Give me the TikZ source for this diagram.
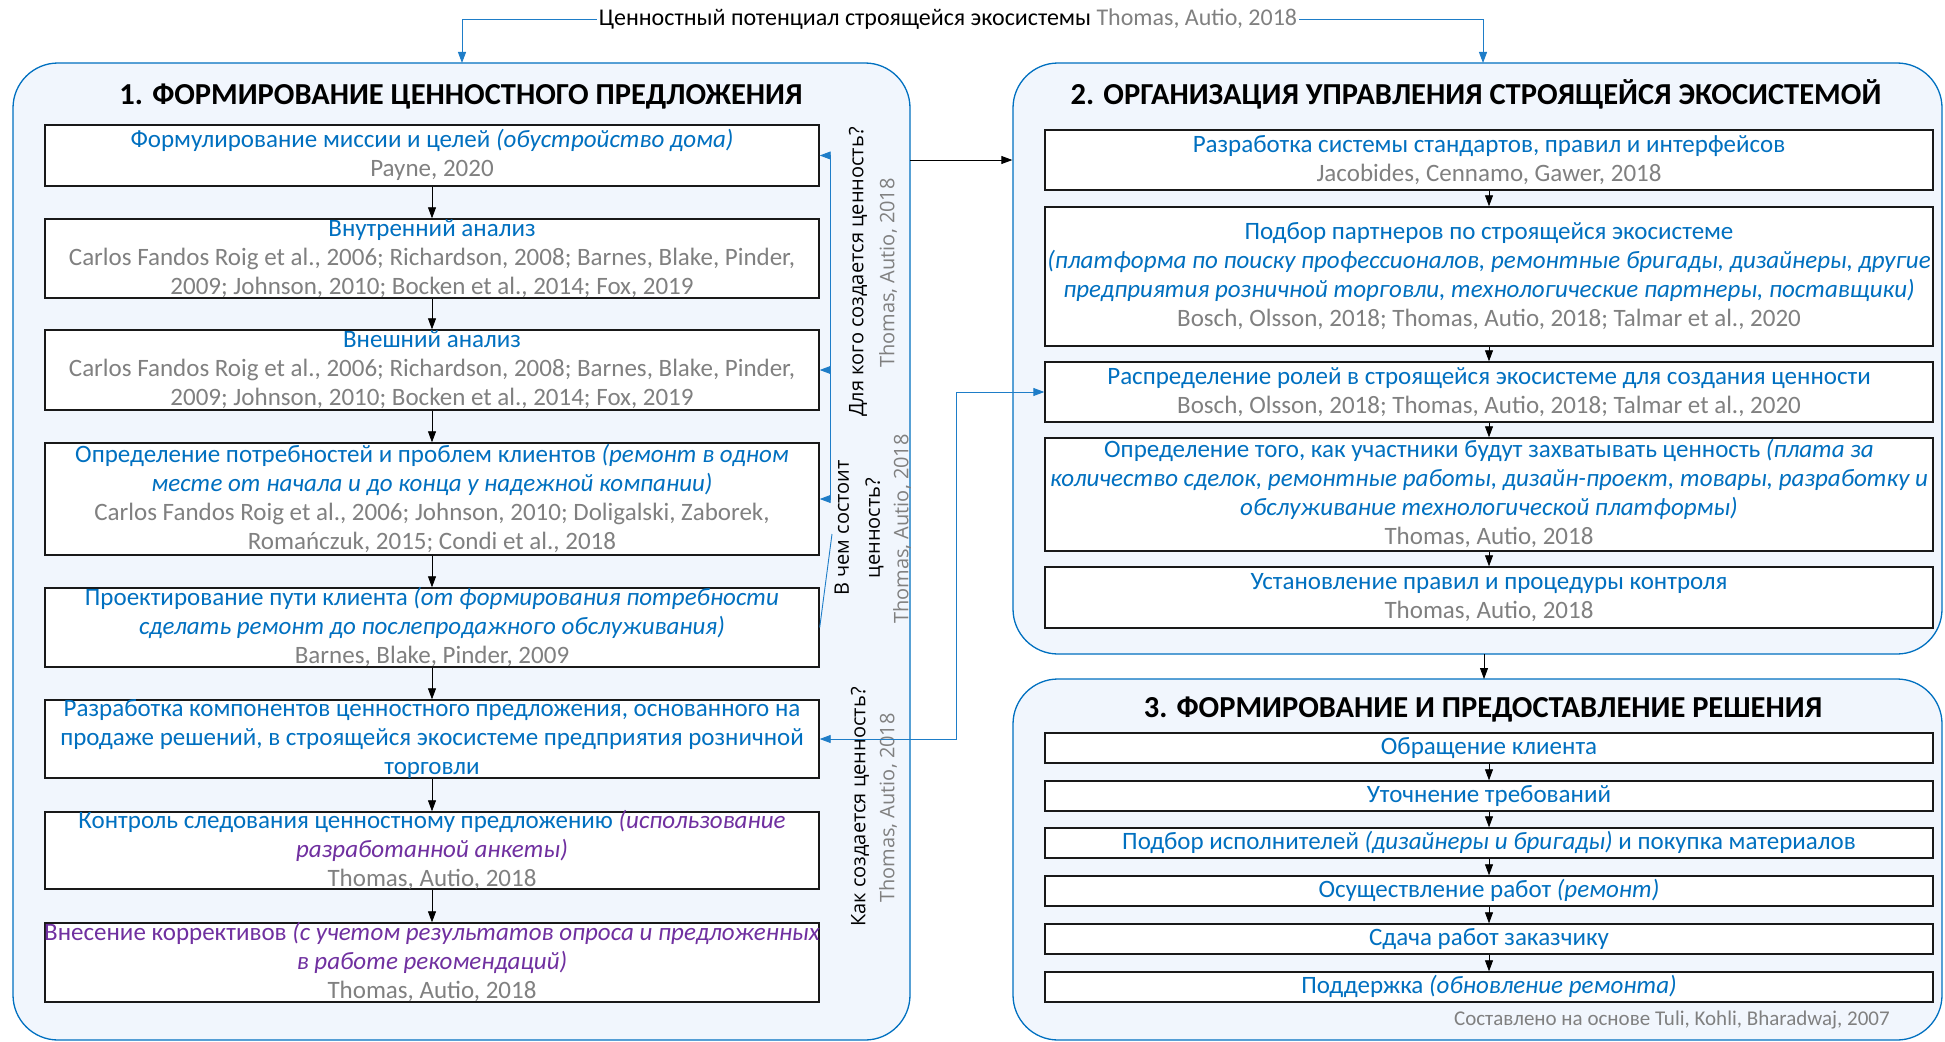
\documentclass[tikz,border=0pt]{standalone}
\usepackage{fontspec}
\setmainfont{Carlito}
\newfontfamily\segoe{Open Sans}
\usetikzlibrary{arrows.meta,calc}
\definecolor{cblue}{RGB}{0,112,192}
\definecolor{lblue}{RGB}{30,125,200}
\definecolor{cgray}{RGB}{128,128,128}
\definecolor{cpurp}{RGB}{112,48,160}
\definecolor{cfill}{RGB}{241,246,253}
\newcommand\cgr[1]{\textcolor{cgray}{#1}}
\newcommand\cpu[1]{\textcolor{cpurp}{#1}}
\newcommand\st{\vrule height 21pt depth 8pt width 0pt}
\begin{document}
\begin{tikzpicture}[x=1pt,y=-1pt,
 panel/.style={draw=cblue, fill=cfill, rounded corners=45pt, line width=1.3pt, inner sep=0pt},
 lbox/.style={draw=black!90, fill=white, line width=1.4pt, inner sep=0pt, minimum width=774pt},
 rbox/.style={draw=black!90, fill=white, line width=1.4pt, inner sep=0pt, minimum width=888pt},
 btxt/.style={align=center, inner sep=0pt, font=\fontsize{25}{29}\selectfont, text=cblue},
 ttl/.style={inner sep=0pt, anchor=base, font=\bfseries\fontsize{30.5}{34}\selectfont, text=black},
 qtxt/.style={rotate=90, align=center, inner sep=0pt, font=\segoe\fontsize{20}{31}\selectfont, text=black},
 qref/.style={rotate=90, inner sep=0pt, font=\segoe\fontsize{20}{24}\selectfont, text=cgray},
 arr/.style={-{Triangle[length=11pt,width=8pt]}, line width=0.8pt, draw=black},
 barr/.style={-{Triangle[length=11pt,width=8pt]}, line width=0.9pt, draw=lblue},
 bboth/.style={{Triangle[length=11pt,width=8pt]}-{Triangle[length=11pt,width=8pt]}, line width=0.9pt, draw=lblue},
 bline/.style={line width=0.9pt, draw=lblue}
]
\useasboundingbox (0,0) rectangle (1945,1041);

% panels
\node[panel, minimum width=897pt, minimum height=977pt] (P1) at (461.5,551.5) {};
\node[panel, minimum width=929pt, minimum height=591pt] (P2) at (1477.5,358.5) {};
\node[panel, minimum width=929pt, minimum height=361pt] (P3) at (1477.5,859.5) {};

% titles
\node[ttl] (T1) at (461,104) {1. ФОРМИРОВАНИЕ ЦЕННОСТНОГО ПРЕДЛОЖЕНИЯ};
\node[ttl] (T2) at (1476,104) {2. ОРГАНИЗАЦИЯ УПРАВЛЕНИЯ СТРОЯЩЕЙСЯ ЭКОСИСТЕМОЙ};
\node[ttl] (T3) at (1483,717) {3. ФОРМИРОВАНИЕ И ПРЕДОСТАВЛЕНИЕ РЕШЕНИЯ};

% top label
\node[inner sep=2pt, font=\fontsize{24}{28}\selectfont] (top) at (948,19) {Ценностный потенциал строящейся экосистемы \cgr{Thomas, Autio, 2018}};
\coordinate (tl) at (462,63);
\coordinate (tr) at (1483,63);
\draw[barr] (top.west) -| (tl);
\draw[barr] (top.east) -| (tr);

% left boxes
\node[lbox, minimum height=61pt] (L1) at (432,155.5) {};
\node[lbox, minimum height=79pt] (L2) at (432,258.5) {};
\node[lbox, minimum height=80pt] (L3) at (432,370) {};
\node[lbox, minimum height=112pt] (L4) at (432,499) {};
\node[lbox, minimum height=79pt] (L5) at (432,627.5) {};
\node[lbox, minimum height=78pt] (L6) at (432,739) {};
\node[lbox, minimum height=77pt] (L7) at (432,850.5) {};
\node[lbox, minimum height=79pt] (L8) at (432,962.5) {};

\node[btxt] (tL1) at (L1.center) {\st Формулирование миссии и целей \textit{(обустройство дома)}\\\st\cgr{Payne, 2020}};
\node[btxt] (tL2) at (L2.center) {\st Внутренний анализ\\\st\cgr{Carlos Fandos Roig et al., 2006; Richardson, 2008; Barnes, Blake, Pinder,}\\\st\cgr{2009; Johnson, 2010; Bocken et al., 2014; Fox, 2019}};
\node[btxt] (tL3) at (L3.center) {\st Внешний анализ\\\st\cgr{Carlos Fandos Roig et al., 2006; Richardson, 2008; Barnes, Blake, Pinder,}\\\st\cgr{2009; Johnson, 2010; Bocken et al., 2014; Fox, 2019}};
\node[btxt] (tL4) at (L4.center) {\st Определение потребностей и проблем клиентов \textit{(ремонт в одном}\\\st\textit{месте от начала и до конца у надежной компании)}\\\st\cgr{Carlos Fandos Roig et al., 2006; Johnson, 2010; Doligalski, Zaborek,}\\\st\cgr{Romańczuk, 2015; Condi et al., 2018}};
\node[btxt] (tL5) at (L5.center) {\st Проектирование пути клиента \textit{(от формирования потребности}\\\st\textit{сделать ремонт до послепродажного обслуживания)}\\\st\cgr{Barnes, Blake, Pinder, 2009}};
\node[btxt] (tL6) at (L6.center) {\st Разработка компонентов ценностного предложения, основанного на\\\st продаже решений, в строящейся экосистеме предприятия розничной\\\st торговли};
\node[btxt] (tL7) at (L7.center) {\st Контроль следования ценностному предложению \cpu{\textit{(использование}}\\\st\cpu{\textit{разработанной анкеты)}}\\\st\cgr{Thomas, Autio, 2018}};
\node[btxt] (tL8) at (L8.center) {\st\cpu{Внесение коррективов \textit{(с учетом результатов опроса и предложенных}}\\\st\cpu{\textit{в работе рекомендаций)}}\\\st\cgr{Thomas, Autio, 2018}};

\draw[arr] (L1) -- (L2);
\draw[arr] (L2) -- (L3);
\draw[arr] (L3) -- (L4);
\draw[arr] (L4) -- (L5);
\draw[arr] (L5) -- (L6);
\draw[arr] (L6) -- (L7);
\draw[arr] (L7) -- (L8);

% right boxes (panel 2)
\node[rbox, minimum height=60pt] (R1) at (1489,160) {};
\node[rbox, minimum height=139pt] (R2) at (1489,276.5) {};
\node[rbox, minimum height=60pt] (R3) at (1489,392) {};
\node[rbox, minimum height=113pt] (R4) at (1489,494.5) {};
\node[rbox, minimum height=61pt] (R5) at (1489,597.5) {};

\node[btxt] (tR1) at (R1.center) {\st Разработка системы стандартов, правил и интерфейсов\\\st\cgr{Jacobides, Cennamo, Gawer, 2018}};
\node[btxt] (tR2) at (R2.center) {\st Подбор партнеров по строящейся экосистеме\\\st\textit{(платформа по поиску профессионалов, ремонтные бригады, дизайнеры, другие}\\\st\textit{предприятия розничной торговли, технологические партнеры, поставщики)}\\\st\cgr{Bosch, Olsson, 2018; Thomas, Autio, 2018; Talmar et al., 2020}};
\node[btxt] (tR3) at (R3.center) {\st Распределение ролей в строящейся экосистеме для создания ценности\\\st\cgr{Bosch, Olsson, 2018; Thomas, Autio, 2018; Talmar et al., 2020}};
\node[btxt] (tR4) at (R4.center) {\st Определение того, как участники будут захватывать ценность \textit{(плата за}\\\st\textit{количество сделок, ремонтные работы, дизайн-проект, товары, разработку и}\\\st\textit{обслуживание технологической платформы)}\\\st\cgr{Thomas, Autio, 2018}};
\node[btxt] (tR5) at (R5.center) {\st Установление правил и процедуры контроля\\\st\cgr{Thomas, Autio, 2018}};

\draw[arr] (R1) -- (R2);
\draw[arr] (R2) -- (R3);
\draw[arr] (R3) -- (R4);
\draw[arr] (R4) -- (R5);

% panel 3 boxes
\node[rbox, minimum height=30pt] (S1) at (1489,748) {};
\node[rbox, minimum height=30pt] (S2) at (1489,796) {};
\node[rbox, minimum height=30pt] (S3) at (1489,843) {};
\node[rbox, minimum height=30pt] (S4) at (1489,891) {};
\node[rbox, minimum height=30pt] (S5) at (1489,939) {};
\node[rbox, minimum height=30pt] (S6) at (1489,987) {};
\node[btxt] (tS1) at (S1.center) {\st Обращение клиента};
\node[btxt] (tS2) at (S2.center) {\st Уточнение требований};
\node[btxt] (tS3) at (S3.center) {\st Подбор исполнителей \textit{(дизайнеры и бригады)} и покупка материалов};
\node[btxt] (tS4) at (S4.center) {\st Осуществление работ \textit{(ремонт)}};
\node[btxt] (tS5) at (S5.center) {\st Сдача работ заказчику};
\node[btxt] (tS6) at (S6.center) {\st Поддержка \textit{(обновление ремонта)}};
\draw[arr] (S1) -- (S2);
\draw[arr] (S2) -- (S3);
\draw[arr] (S3) -- (S4);
\draw[arr] (S4) -- (S5);
\draw[arr] (S5) -- (S6);
\node[inner sep=0pt, anchor=east, font=\fontsize{21}{25}\selectfont, text=cgray] (src) at (1890,1020) {Составлено на основе Tuli, Kohli, Bharadwaj, 2007};

% panel-to-panel arrows
\coordinate (a1) at (910,160);
\draw[arr] (a1) -- (a1 -| P2.west);
\coordinate (a2) at (1484,654);
\coordinate (a3) at (1484,679);
\draw[arr] (a2) -- (a3);

% rotated question labels
\node[qtxt] (q1) at (858,272) {Для кого создается ценность?};
\node[qref] (q1r) at (888,273) {Thomas, Autio, 2018};
\node[qtxt] (q2) at (859,528) {В чем состоит\\ценность?};
\node[qref] (q2r) at (902,529) {Thomas, Autio, 2018};
\node[qtxt] (q3) at (860,807) {Как создается ценность?};
\node[qref] (q3r) at (888,808) {Thomas, Autio, 2018};

% blue connectors
\coordinate (k1) at (830,155.5);
\coordinate (k3) at (830,370);
\coordinate (k4) at (830,499);
\draw[bline] (k1) -- (k4);
\draw[barr] (k1) -- (L1.east);
\draw[barr] (k3) -- (L3.east);
\draw[barr] (k4) -- (L4.east);
\coordinate (c2) at (832,534);
\draw[bline] (c2) -- (L5.east);
\coordinate (k6) at (956,739);
\draw[bboth] (L6.east) -- (k6) |- (R3.west);
\end{tikzpicture}
\end{document}
